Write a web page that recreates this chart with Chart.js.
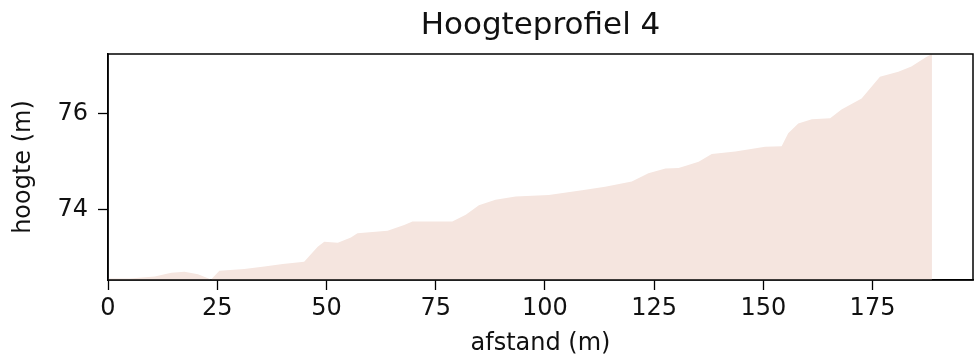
<!DOCTYPE html>
<html>
<head>
<meta charset="utf-8">
<script src="https://cdn.jsdelivr.net/npm/chart.js@4/dist/chart.umd.min.js"></script>
<style>
  html, body { margin: 0; padding: 0; background: #ffffff; }
  #wrap { width: 975px; height: 364px; }
</style>
</head>
<body>
<div id="wrap"><canvas id="c" width="975" height="364"></canvas></div>
<script>
// distance along the profile (m)
const afstand = [0, 5, 10.7, 14.5, 17.5, 20.6, 23.6, 25.5, 31.2, 35.8, 40, 44.9, 48.0, 49.5, 52.6, 55.6, 57.1,
  64.0, 67.8, 69.7, 78.8, 81.9, 84.9, 88.7, 93.3, 100.9, 108.5, 113.8, 119.9, 123.7, 127.6, 130.6, 132.1,
  135.2, 138.2, 143.6, 150.4, 154.2, 155.7, 158.0, 161.1, 165.3, 167.9, 172.5, 176.7, 180.9, 183.9, 187.3, 188.6];
// height (m)
const hoogte = [72.58, 72.58, 72.62, 72.70, 72.72, 72.67, 72.56, 72.74, 72.78, 72.83, 72.88, 72.93, 73.24, 73.34, 73.32, 73.43, 73.52,
  73.57, 73.69, 73.76, 73.76, 73.90, 74.10, 74.21, 74.28, 74.31, 74.41, 74.48, 74.59, 74.76, 74.86, 74.87, 74.91,
  75.00, 75.16, 75.21, 75.31, 75.32, 75.59, 75.79, 75.88, 75.90, 76.08, 76.31, 76.76, 76.86, 76.97, 77.17, 77.23];
const xTicks = [0, 25, 50, 75, 100, 125, 150, 175];
const yTicks = [74, 76];
const xRange = [0, 198];
const yRange = [72.55, 77.23];

const FONT = "'DejaVu Sans', sans-serif";

const framePlugin = {
  id: 'frame',
  afterDraw(chart) {
    const a = chart.chartArea, ctx = chart.ctx;
    ctx.save();
    ctx.strokeStyle = '#000';
    ctx.lineWidth = 1.5;
    ctx.strokeRect(a.left, a.top, a.right - a.left, a.bottom - a.top);
    ctx.restore();
  }
};

new Chart(document.getElementById('c'), {
  type: 'line',
  data: {
    datasets: [{
      data: afstand.map((d, i) => ({ x: d, y: hoogte[i] })),
      fill: 'start',
      backgroundColor: 'rgb(245,229,223)',
      borderWidth: 0,
      borderColor: 'rgba(0,0,0,0)',
      pointRadius: 0,
      tension: 0
    }]
  },
  options: {
    responsive: false,
    devicePixelRatio: 1,
    animation: false,
    layout: { padding: { left: 0, right: 2, top: 0, bottom: 0 } },
    plugins: {
      legend: { display: false },
      tooltip: { enabled: false },
      title: {
        display: true,
        text: 'Hoogteprofiel 4',
        fullSize: false,
        color: '#111',
        font: { family: FONT, size: 31, weight: 'normal', lineHeight: 1.2 },
        padding: { top: 7, bottom: 9.8 }
      }
    },
    scales: {
      x: {
        type: 'linear',
        min: xRange[0],
        max: xRange[1],
        afterBuildTicks: s => { s.ticks = xTicks.map(v => ({ value: v })); },
        afterFit: s => { s.height = 84; },
        grid: { drawOnChartArea: false, drawTicks: true, tickLength: 10, color: '#000', tickWidth: 1.3 },
        border: { display: true, color: '#000', width: 1.5 },
        ticks: { color: '#111', padding: 4.6, maxRotation: 0, font: { family: FONT, size: 24, lineHeight: 1.2 } },
        title: {
          display: true, text: 'afstand (m)', color: '#111',
          font: { family: FONT, size: 24, lineHeight: 1.2 },
          padding: { top: 0, bottom: 5.9 }
        }
      },
      y: {
        type: 'linear',
        min: yRange[0],
        max: yRange[1],
        afterBuildTicks: s => { s.ticks = yTicks.map(v => ({ value: v })); },
        afterFit: s => { s.width = 108; },
        grid: { drawOnChartArea: false, drawTicks: true, tickLength: 10, color: '#000', tickWidth: 1.3 },
        border: { display: true, color: '#000', width: 1.5 },
        ticks: { color: '#111', padding: 10, font: { family: FONT, size: 24, lineHeight: 1.2 } },
        title: {
          display: true, text: 'hoogte (m)', color: '#111',
          font: { family: FONT, size: 24, lineHeight: 1.2 },
          padding: { top: 9.6, bottom: 0 }
        }
      }
    }
  },
  plugins: [framePlugin]
});
</script>
</body>
</html>
